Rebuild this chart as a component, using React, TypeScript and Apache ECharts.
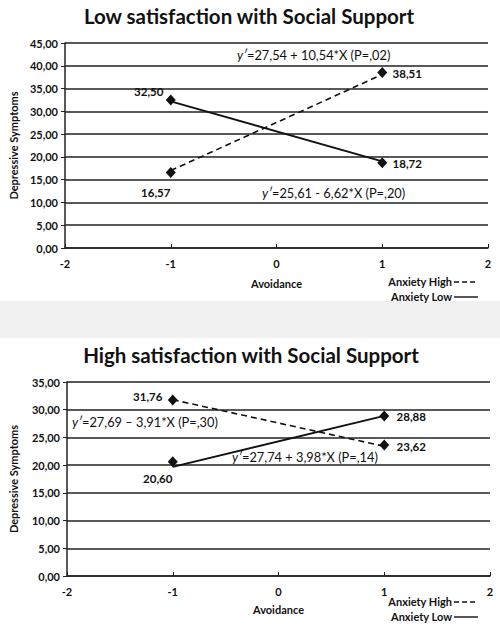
import { useEffect, useRef } from "react";
import * as echarts from "echarts";

const avoidance = [-1, 1];
const xTicks = [-2, -1, 0, 1, 2];
const lowYMax = 45;
const highYMax = 35;

// Marker values (Anxiety High / Anxiety Low)
const lowHighPoints = [16.57, 38.51];
const lowLowPoints = [32.5, 18.72];
const highHighPoints = [31.76, 23.62];
const highLowPoints = [20.6, 28.88];

// Fitted line end values
const lowHighLine = [17.0, 38.1];
const lowLowLine = [32.2, 19.0];
const highHighLine = [31.8, 23.4];
const highLowLine = [19.7, 28.9];

const titles = ["Low satisfaction with Social Support", "High satisfaction with Social Support"];
const equations = [
  "=27,54 + 10,54*X (P=,02)",
  "=25,61 - 6,62*X (P=,20)",
  "=27,69 \u2013 3,91*X (P=,30)",
  "=27,74 + 3,98*X (P=,14)",
];
const seriesNames = ["Anxiety High", "Anxiety Low"];

const FONT = "Lato, 'Open Sans', sans-serif";
const INK = "#111";
const fmt = (v: number) => v.toFixed(2).replace(".", ",");

export default function App() {
  const ref = useRef<HTMLDivElement>(null);
  useEffect(() => {
    if (!ref.current) return;
    const chart = echarts.init(ref.current, undefined, { renderer: "svg" });

    const pairs = (ys: number[]) => avoidance.map((x, i) => [x, ys[i]]);

    const grids = [
      { left: 57, width: 431, top: 43, height: 205 },
      { left: 59, width: 431, top: 382, height: 194 },
    ];

    const xAxis = [0, 1].map((g) => ({
      type: "value",
      gridIndex: g,
      min: xTicks[0],
      max: xTicks[xTicks.length - 1],
      interval: 1,
      name: "Avoidance",
      nameLocation: "middle",
      nameGap: g === 0 ? 30 : 28,
      nameTextStyle: { fontFamily: FONT, fontWeight: "bold", fontSize: 11, color: INK, verticalAlign: "top" },
      axisLine: { show: true, onZero: false, lineStyle: { color: "#222", width: 1.5 } },
      axisTick: { show: true, inside: true, length: 4, lineStyle: { color: "#222" } },
      axisLabel: { fontFamily: FONT, fontWeight: "bold", fontSize: 11, color: INK, margin: 10 },
      splitLine: { show: false },
    }));

    const yAxis = [0, 1].map((g) => ({
      type: "value",
      gridIndex: g,
      min: 0,
      max: g === 0 ? lowYMax : highYMax,
      interval: 5,
      name: "Depressive Symptoms",
      nameLocation: "middle",
      nameGap: g === 0 ? 46 : 48,
      nameRotate: 90,
      nameTextStyle: { fontFamily: FONT, fontWeight: "bold", fontSize: 11, color: INK },
      axisLine: { show: true, onZero: false, lineStyle: { color: "#222", width: 1.5 } },
      axisTick: { show: true, length: 4, lineStyle: { color: "#222" } },
      axisLabel: { fontFamily: FONT, fontWeight: "bold", fontSize: 11, color: INK, margin: 7, formatter: (v: number) => fmt(v) },
      splitLine: { show: true, lineStyle: { color: "#222", width: 1.5 } },
    }));

    const lineSeries = (name: string, g: number, ys: number[], dashed: boolean) => ({
      name,
      type: "line",
      xAxisIndex: g,
      yAxisIndex: g,
      data: pairs(ys),
      symbol: "none",
      lineStyle: { color: INK, width: dashed ? 1.6 : 1.9, type: dashed ? [6, 4] : "solid" },
      itemStyle: { color: INK },
      z: 3,
    });

    const pointSeries = (g: number, ys: number[], offsets: number[][]) => ({
      type: "scatter",
      xAxisIndex: g,
      yAxisIndex: g,
      symbol: "diamond",
      symbolSize: [10, 11],
      itemStyle: { color: INK, opacity: 1 },
      z: 4,
      data: pairs(ys).map((d, i) => ({
        value: d,
        label: {
          show: true,
          position: "inside",
          offset: offsets[i],
          formatter: (p: any) => fmt(p.value[1]),
          fontFamily: FONT,
          fontWeight: "bold",
          fontSize: 11.5,
          color: INK,
        },
      })),
    });

    const eqText = (text: string, x: number, y: number) => ({
      type: "text",
      x,
      y,
      style: {
        text: "{i|y\u2032}" + text,
        fontFamily: FONT,
        fontSize: 12.8,
        fill: INK,
        textVerticalAlign: "middle",
        rich: { i: { fontStyle: "italic", fontFamily: FONT, fontSize: 12.8, fill: INK } },
      },
      z: 10,
    });

    // Legend drawn as graphic: label text + line sample, right-aligned
    const legendItem = (name: string, dashed: boolean, xRight: number, y: number) => [
      {
        type: "text",
        x: xRight - 26,
        y,
        style: { text: name, fontFamily: FONT, fontWeight: "bold", fontSize: 11, fill: INK, textAlign: "right", textVerticalAlign: "middle" },
        z: 10,
      },
      {
        type: "line",
        shape: { x1: xRight - 24, y1: y + 1, x2: xRight, y2: y + 1 },
        style: { stroke: INK, lineWidth: 1.4, lineDash: dashed ? [5, 3] : null },
        z: 10,
      },
    ];

    chart.setOption({
      animation: false,
      backgroundColor: "#fff",
      title: titles.map((t, i) => ({
        text: t,
        left: i === 0 ? 244 : 246,
        top: i === 0 ? 0 : 339,
        textAlign: "center",
        textStyle: { fontFamily: FONT, fontWeight: "bold", fontSize: 20.5, color: INK },
      })),
      grid: grids,
      xAxis,
      yAxis,
      series: [
        lineSeries(seriesNames[0], 0, lowHighLine, true),
        lineSeries(seriesNames[1], 0, lowLowLine, false),
        lineSeries(seriesNames[0], 1, highHighLine, true),
        lineSeries(seriesNames[1], 1, highLowLine, false),
        pointSeries(0, lowHighPoints, [[-15, 20], [25, 1]]),
        pointSeries(0, lowLowPoints, [[-22, -8], [25, 1]]),
        pointSeries(1, highHighPoints, [[-25, -3], [27, 1]]),
        pointSeries(1, highLowPoints, [[-15, 17], [27, 1]]),
      ],
      graphic: [
        { type: "rect", shape: { x: 0, y: 301, width: 500, height: 37 }, style: { fill: "#f1f1f1" }, z: -1 },
        eqText(equations[0], 237, 55),
        eqText(equations[1], 262, 193),
        eqText(equations[2], 72, 422),
        eqText(equations[3], 232, 457),
        ...legendItem(seriesNames[0], true, 478, 281),
        ...legendItem(seriesNames[1], false, 478, 296),
        ...legendItem(seriesNames[0], true, 478, 601),
        ...legendItem(seriesNames[1], false, 478, 616),
      ],
    });
    return () => chart.dispose();
  }, []);
  return <div ref={ref} style={{ position: "fixed", left: 0, top: 0, width: 500, height: 626 }} />;
}
